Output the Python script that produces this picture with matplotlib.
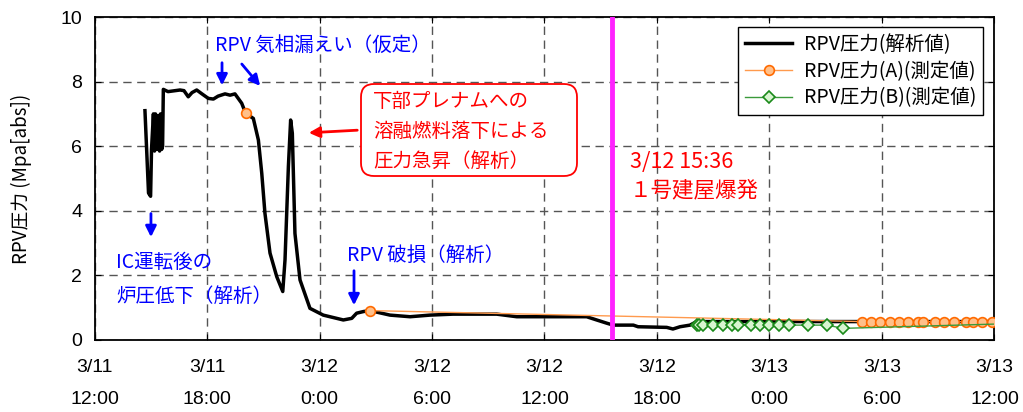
import numpy as np
import matplotlib
matplotlib.use("Agg")
import matplotlib.pyplot as plt
from matplotlib.patches import FancyBboxPatch
from matplotlib import font_manager

plt.rcParams['font.family'] = ['Noto Sans CJK JP', 'DejaVu Sans']

# hours since 3/11 12:00
t_calc = [2.69, 2.88, 2.99, 3.04, 3.14, 3.20, 3.25, 3.33, 3.39, 3.47, 3.52, 3.58, 3.63,
          3.67, 3.92, 4.56, 4.77, 5.00, 5.20, 5.45, 5.73, 6.07, 6.34, 6.59, 6.96, 7.23,
          7.49, 7.85, 8.06, 8.47, 8.74, 8.92, 9.09, 9.36, 9.72, 10.04, 10.16, 10.34,
          10.46, 10.55, 10.69, 10.96, 11.49, 12.20, 13.27, 13.72, 13.98, 14.34, 14.69,
          15.76, 16.83, 17.89, 19.12, 21.45, 22.52, 26.25, 26.78, 27.32, 27.67, 28.74,
          28.99, 30.52, 30.85, 31.23, 31.76, 32.12, 34.0, 40.0, 48.3]
p_calc = [7.10, 4.55, 4.45, 5.90, 7.00, 5.85, 7.00, 5.90, 6.95, 5.85, 7.00, 5.90, 6.00,
          7.76, 7.69, 7.74, 7.72, 7.53, 7.66, 7.74, 7.62, 7.48, 7.46, 7.55, 7.62, 7.58,
          7.62, 7.33, 7.02, 6.86, 6.19, 5.16, 3.92, 2.69, 1.96, 1.50, 2.48, 5.37,
          6.81, 6.40, 3.30, 1.86, 0.98, 0.77, 0.62, 0.67, 0.83, 0.88, 0.91,
          0.77, 0.72, 0.77, 0.80, 0.80, 0.72, 0.72, 0.62, 0.52, 0.46, 0.46,
          0.41, 0.39, 0.34, 0.41, 0.46, 0.57, 0.57, 0.57, 0.57]

t_a = [8.06, np.nan, 14.69, 40.92, 41.41, 41.91, 42.41, 42.90, 43.40, 43.90, 44.20,
       44.82, 45.32, 45.82, 46.46, 46.86, 47.34, 47.87]
p_a = [7.02, np.nan, 0.91, 0.57, 0.57, 0.57, 0.57, 0.57, 0.57, 0.57, 0.57,
       0.57, 0.57, 0.57, 0.57, 0.57, 0.57, 0.57]

t_b = [32.12, 32.26, 32.44, 33.00, 33.50, 33.98, 34.33, 35.00, 35.49, 35.99, 36.51,
       37.03, 38.04, 39.05, 39.94, 48.5]
p_b = [0.46, 0.46, 0.46, 0.46, 0.46, 0.46, 0.46, 0.46, 0.46, 0.46, 0.46,
       0.46, 0.46, 0.46, 0.36, 0.50]

xticks = [0, 6, 12, 18, 24, 30, 36, 42, 48]
xlabels = ["3/11\n12:00", "3/11\n18:00", "3/12\n0:00", "3/12\n6:00", "3/12\n12:00",
           "3/12\n18:00", "3/13\n0:00", "3/13\n6:00", "3/13\n12:00"]
t_explosion = 27.6

names = {f.name for f in font_manager.fontManager.ttflist}
narrow = 'Liberation Sans Narrow' if 'Liberation Sans Narrow' in names else 'Liberation Sans'

fig = plt.figure(figsize=(10.23, 4.12), dpi=100)
ax = fig.add_axes([0.0924, 0.1748, 0.8797, 0.7839])

ax.plot(t_calc, p_calc, color="black", lw=2.5, label="RPV圧力(解析値)", zorder=4)
ax.plot(t_a, p_a, color="#ff9a4d", lw=1.0, marker="o", ms=7, mfc="#ffc08a",
        mec="#ff6a00", mew=1.2, label="RPV圧力(A)(測定値)", zorder=5)
ax.plot(t_b, p_b, color="#3a9a3a", lw=1.0, marker="D", ms=6, mfc="#d8f5d0",
        mec="#1a8a1a", mew=1.2, label="RPV圧力(B)(測定値)", zorder=5)

ax.axvline(t_explosion, color="#ff22ff", lw=3.5, zorder=6)

ax.set_xlim(0, 48)
ax.set_ylim(0, 10)
ax.set_xticks(xticks)
ax.set_xticklabels(xlabels)
ax.set_yticks([0, 2, 4, 6, 8, 10])
for lab in ax.get_xticklabels():
    lab.set_family(narrow)
    lab.set_fontsize(14)
    lab.set_linespacing(2.15)
for lab in ax.get_yticklabels():
    lab.set_family(narrow)
    lab.set_fontsize(14)
ax.tick_params(direction="in", length=4, pad=9, top=True, right=True)
ax.tick_params(axis="x", pad=13.5)
ax.grid(True, color="#555555", ls=(0, (6, 4)), lw=1.0)
for s in ax.spines.values():
    s.set_linewidth(1.3)

ax.set_ylabel("RPV圧力 (Mpa[abs])", fontsize=13.5)
ax.yaxis.set_label_coords(-0.07, 0.5)

leg = ax.legend(loc="upper right", bbox_to_anchor=(0.987, 0.969), fontsize=14,
                fancybox=False, edgecolor="black", framealpha=1, handlelength=2.4,
                borderpad=0.35, labelspacing=0.3, borderaxespad=0, handletextpad=0.6)
leg.get_frame().set_linewidth(1.0)

blue = "#0000ff"
red = "#ff0000"
akw = dict(arrowstyle="-|>", color=blue, lw=2.0, mutation_scale=16)

ax.text(6.43, 9.13, "RPV 気相漏えい（仮定）", color=blue, fontsize=14, va="center")
ax.annotate("", xy=(6.8, 7.8), xytext=(6.8, 8.67), arrowprops=akw)
ax.annotate("", xy=(8.93, 7.8), xytext=(7.76, 8.61), arrowprops=akw)

ax.text(1.15, 2.41, "IC運転後の", color=blue, fontsize=14, va="center")
ax.text(1.15, 1.36, "炉圧低下（解析）", color=blue, fontsize=14, va="center")
ax.annotate("", xy=(3.01, 3.1), xytext=(3.01, 4.0), arrowprops=akw)

ax.text(13.47, 2.63, "RPV 破損（解析）", color=blue, fontsize=14, va="center")
ax.annotate("", xy=(13.84, 0.99), xytext=(13.84, 2.23), arrowprops=akw)

box = FancyBboxPatch((3.61, 2.36), 2.16, 0.92, boxstyle="round,pad=0,rounding_size=0.13",
                     transform=fig.dpi_scale_trans, fc="white", ec=red, lw=1.3,
                     zorder=7, clip_on=False)
ax.add_patch(box)
for yv, s in zip([7.40, 6.47, 5.54], ["下部プレナムへの", "溶融燃料落下による", "圧力急昇（解析）"]):
    ax.text(14.85, yv, s, color=red, fontsize=14, va="center", zorder=8)
ax.annotate("", xy=(11.28, 6.41), xytext=(14.16, 6.5),
            arrowprops=dict(arrowstyle="-|>", color=red, lw=2.0, mutation_scale=16))

ax.text(28.56, 5.51, "3/12 15:36", color=red, fontsize=15.5, va="center")
ax.text(28.56, 4.64, "１号建屋爆発", color=red, fontsize=15.5, va="center")

fig.savefig("out.png", dpi=100)
